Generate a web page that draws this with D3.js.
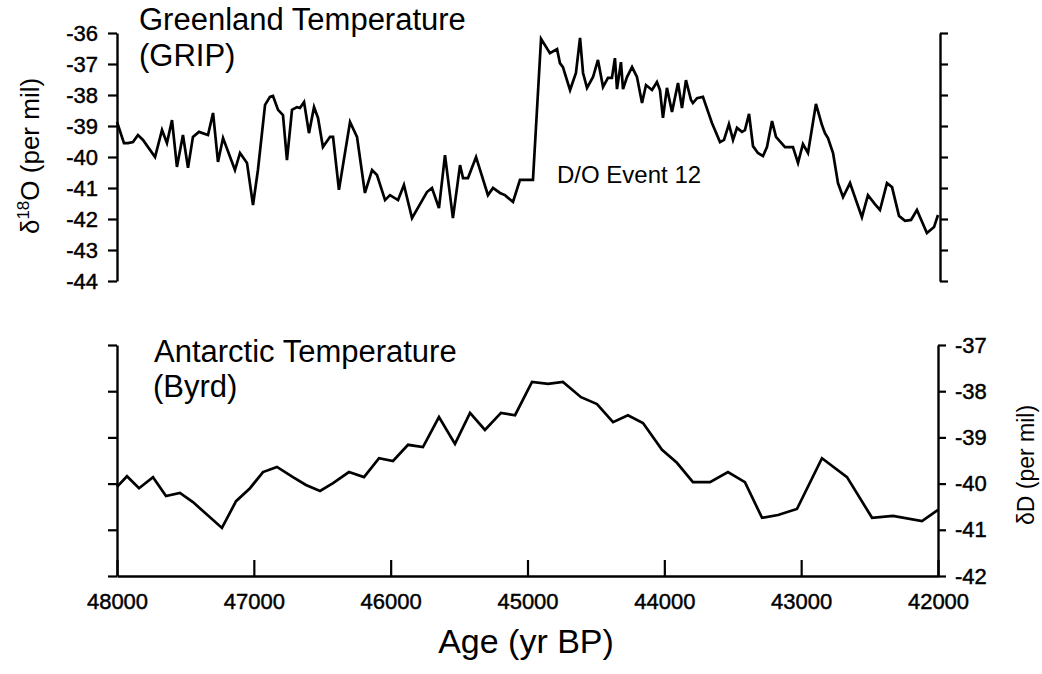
<!DOCTYPE html>
<html>
<head>
<meta charset="utf-8">
<script src="https://cdn.jsdelivr.net/npm/d3@7"></script>
<style>
  body { margin: 0; background: #fff; }
  svg text { font-family: "Liberation Sans", Arial, Helvetica, sans-serif; fill: #000; }
</style>
</head>
<body>
<script>
// Greenland (GRIP) d18O and Antarctic (Byrd) dD, 48-42 kyr BP
var gripAge = [48000,47949,47920,47883,47847,47810,47722,47671,47635,47598,47562,47518,47481,47445,47401,47335,47298,47262,47225,47138,
  47101,47050,47006,46970,46918,46882,46860,46823,46787,46758,46721,46685,46663,46633,46597,46560,46531,46495,46443,46421,
  46378,46297,46246,46188,46136,46100,46041,46005,45946,45903,45844,45735,45698,45647,45603,45545,45493,45471,45435,45376,
  45289,45252,45201,45165,45106,45055,44960,44901,44836,44784,44763,44741,44689,44646,44616,44594,44565,44521,44485,44448,
  44412,44383,44361,44346,44317,44302,44273,44236,44200,44163,44134,44090,44054,44032,44010,43981,43944,43900,43871,43842,
  43805,43791,43761,43718,43652,43593,43564,43528,43498,43469,43433,43411,43381,43352,43316,43279,43250,43213,43184,43118,
  43060,43023,42987,42950,42892,42848,42826,42804,42767,42731,42694,42643,42556,42512,42461,42424,42373,42336,42285,42241,
  42197,42154,42081,42029,42000];
var gripD18O = [-38.87,-39.55,-39.55,-39.52,-39.29,-39.45,-40.00,-39.13,-39.55,-38.81,-40.32,-39.29,-40.35,-39.35,-39.19,-39.29,-38.58,-40.16,-39.39,-40.42,
  -39.87,-40.19,-41.55,-40.42,-38.32,-38.06,-38.03,-38.48,-38.65,-40.10,-38.48,-38.39,-38.42,-38.23,-39.23,-38.39,-38.74,-39.68,-39.35,-39.35,
  -41.06,-38.87,-39.35,-41.16,-40.42,-40.58,-41.39,-41.23,-41.39,-40.90,-41.97,-41.13,-41.00,-41.65,-39.94,-41.97,-40.26,-40.68,-40.68,-40.00,
  -41.23,-41.00,-41.16,-41.23,-41.45,-40.74,-40.74,-36.19,-36.65,-36.52,-36.97,-37.10,-37.84,-37.29,-36.16,-37.29,-37.77,-37.42,-36.87,-37.74,
  -37.45,-37.45,-36.81,-37.81,-36.94,-37.81,-37.42,-37.10,-37.42,-38.26,-37.68,-37.84,-37.58,-37.84,-38.74,-37.77,-38.55,-37.61,-38.42,-37.52,
  -38.16,-38.26,-38.10,-38.06,-38.90,-39.52,-39.45,-38.94,-39.45,-39.06,-39.19,-39.13,-38.61,-39.65,-39.87,-39.97,-39.68,-38.84,-39.35,-39.68,
  -39.68,-40.19,-39.58,-39.87,-38.29,-38.97,-39.23,-39.39,-39.87,-40.84,-41.29,-40.84,-41.94,-41.23,-41.52,-41.71,-40.84,-40.97,-41.90,-42.06,
  -42.03,-41.71,-42.45,-42.26,-41.87];

var byrdAge = [48000,47927,47839,47737,47642,47540,47445,47233,47130,47028,46933,46831,46714,46619,46516,46421,46305,46195,46085,45983,
  45873,45764,45647,45530,45420,45311,45194,45091,44967,44850,44741,44609,44492,44375,44266,44156,44017,43908,43791,43666,
  43535,43411,43286,43169,43031,42848,42665,42482,42329,42117,42000];
var byrdDD = [-40.07,-39.84,-40.10,-39.86,-40.27,-40.20,-40.40,-40.96,-40.38,-40.10,-39.75,-39.64,-39.86,-40.03,-40.16,-39.99,-39.75,-39.86,-39.45,-39.51,
  -39.16,-39.21,-38.56,-39.14,-38.47,-38.84,-38.47,-38.52,-37.80,-37.84,-37.80,-38.13,-38.28,-38.67,-38.52,-38.69,-39.27,-39.55,-39.97,-39.97,
  -39.75,-39.97,-40.74,-40.68,-40.55,-39.45,-39.86,-40.74,-40.70,-40.81,-40.57];

var ageTicks = [48000, 47000, 46000, 45000, 44000, 43000, 42000];
var gripTicks = [-36, -37, -38, -39, -40, -41, -42, -43, -44];
var byrdTicks = [-37, -38, -39, -40, -41, -42];

var svg = d3.select("body").append("svg")
  .attr("width", 1042)
  .attr("height", 674);

var x = d3.scaleLinear().domain([48000, 42000]).range([117, 938]);
var yTop = d3.scaleLinear().domain([-36, -44]).range([33, 281]);
var yBot = d3.scaleLinear().domain([-37, -42]).range([345, 576]);

var plain = function (d) { return String(d); };  // hyphen, not unicode minus

function styleAxis(g, size) {
  g.selectAll("path").attr("stroke", "#000").attr("stroke-width", 2.4);
  g.selectAll("line").attr("stroke", "#000").attr("stroke-width", 2.2);
  g.selectAll("text")
    .attr("font-size", size)
    .attr("font-family", null)
    .attr("stroke", "#000")
    .attr("stroke-width", 0.45);
}

// top panel axes
svg.append("g")
  .attr("transform", "translate(117,0)")
  .call(d3.axisLeft(yTop).tickValues(gripTicks).tickSize(9).tickSizeOuter(0).tickPadding(10).tickFormat(plain))
  .call(styleAxis, 22);
svg.append("g")
  .attr("transform", "translate(940,0)")
  .call(d3.axisRight(yTop).tickValues(gripTicks).tickSize(8).tickSizeOuter(0).tickFormat(""))
  .call(styleAxis, 22);

// bottom panel axes
svg.append("g")
  .attr("transform", "translate(117,0)")
  .call(d3.axisLeft(yBot).tickValues(byrdTicks).tickSize(9).tickSizeOuter(0).tickFormat(""))
  .call(styleAxis, 22);
svg.append("g")
  .attr("transform", "translate(938,0)")
  .call(d3.axisRight(yBot).tickValues(byrdTicks).tickSize(8).tickSizeOuter(0).tickPadding(9).tickFormat(plain))
  .call(styleAxis, 22);
svg.append("g")
  .attr("transform", "translate(0,576)")
  .call(d3.axisBottom(x).tickValues(ageTicks).tickSize(-16).tickSizeOuter(0).tickPadding(17).tickFormat(plain))
  .call(styleAxis, 22);

// lines
var gripLine = d3.line().x(function (d, i) { return x(gripAge[i]); }).y(function (d) { return yTop(d); });
var byrdLine = d3.line().x(function (d, i) { return x(byrdAge[i]); }).y(function (d) { return yBot(d); });

svg.append("path")
  .datum(gripD18O)
  .attr("d", gripLine)
  .attr("fill", "none")
  .attr("stroke", "#000")
  .attr("stroke-width", 2.7);
svg.append("path")
  .datum(byrdDD)
  .attr("d", byrdLine)
  .attr("fill", "none")
  .attr("stroke", "#000")
  .attr("stroke-width", 2.7);

// titles
svg.append("text").attr("x", 139).attr("y", 30).attr("font-size", 31).text("Greenland Temperature");
svg.append("text").attr("x", 139).attr("y", 66).attr("font-size", 31).text("(GRIP)");
svg.append("text").attr("x", 154).attr("y", 362).attr("font-size", 31).text("Antarctic Temperature");
svg.append("text").attr("x", 153).attr("y", 397).attr("font-size", 31).text("(Byrd)");
svg.append("text").attr("x", 557).attr("y", 183).attr("font-size", 24).text("D/O Event 12");

// axis titles
var yl = svg.append("text")
  .attr("transform", "translate(39,156) rotate(-90)")
  .attr("text-anchor", "middle")
  .attr("font-size", 26);
yl.append("tspan").text("\u03b4");
yl.append("tspan").attr("font-size", 17).attr("dy", -10).text("18");
yl.append("tspan").attr("dy", 10).text("O (per mil)");

svg.append("text")
  .attr("transform", "translate(1034,465) rotate(-90)")
  .attr("text-anchor", "middle")
  .attr("font-size", 23)
  .text("\u03b4D (per mil)");

svg.append("text")
  .attr("x", 526).attr("y", 653)
  .attr("text-anchor", "middle")
  .attr("font-size", 34)
  .text("Age (yr BP)");
</script>
</body>
</html>
